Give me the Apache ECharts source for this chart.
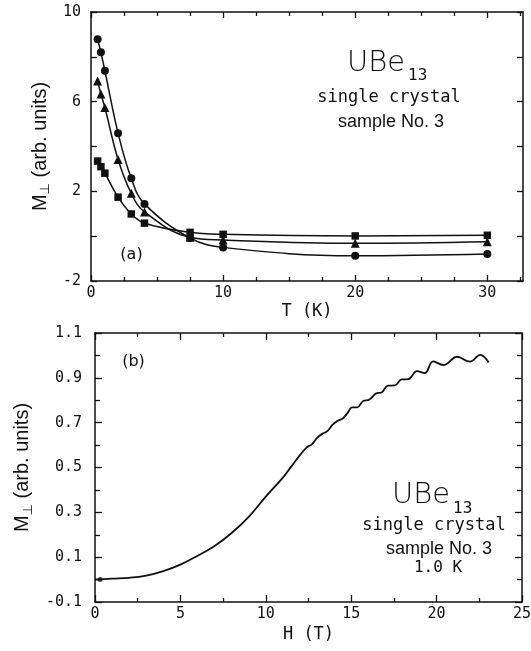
<!DOCTYPE html>
<html><head><meta charset="utf-8">
<script src="https://cdn.jsdelivr.net/npm/echarts@6/dist/echarts.min.js"></script>
<style>html,body{margin:0;padding:0;background:#fff}#c{width:531px;height:651px}</style>
</head><body><div id="c"></div>
<script>
// ---- Panel (a): M_perp vs T ----
const temperatureK = [0.5, 0.75, 1.05, 2.05, 3.05, 4.05, 7.5, 10, 20, 30];
const mCircle   = [8.78, 8.20, 7.38, 4.59, 2.58, 1.44, -0.08, -0.50, -0.87, -0.79];
const mTriangle = [6.92, 6.34, 5.74, 3.42, 1.91, 1.08, -0.05, -0.17, -0.32, -0.25];
const mSquare   = [3.35, 3.10, 2.81, 1.74, 0.99, 0.58, 0.17, 0.08, 0.01, 0.04];
const aXMajor = [0, 10, 20, 30];
const aXMinor = [2.5, 5, 7.5, 12.5, 15, 17.5, 22.5, 25, 27.5, 32.5];
const aYTicks = [-2, 0, 2, 4, 6, 8, 10];
const aYLabels = [-2, 2, 6, 10];

// ---- Panel (b): M_perp vs H ----
const fieldH = [0, 0.5, 1, 2, 3, 4, 5, 6, 7, 8, 9, 10, 11, 11.5, 12, 12.4, 12.7, 13.0, 13.3, 13.6, 13.9, 14.2, 14.5, 14.8, 15.05, 15.35, 15.7, 16.05, 16.45, 16.8, 17.15, 17.55, 17.95, 18.35, 18.85, 19.3, 19.8, 20.4, 21.2, 21.95, 22.55, 23.05];
const magM = [0, 0.002, 0.004, 0.008, 0.018, 0.038, 0.067, 0.106, 0.15, 0.208, 0.28, 0.37, 0.455, 0.505, 0.555, 0.59, 0.603, 0.632, 0.65, 0.662, 0.69, 0.708, 0.718, 0.745, 0.768, 0.768, 0.797, 0.802, 0.83, 0.836, 0.865, 0.866, 0.893, 0.894, 0.93, 0.921, 0.973, 0.957, 0.994, 0.972, 1.002, 0.968];
const bXMajor = [0, 5, 10, 15, 20, 25];
const bXMinor = [2.5, 7.5, 12.5, 17.5, 22.5];
const bYMajor = [-0.1, 0.1, 0.3, 0.5, 0.7, 0.9, 1.1];
const bYMinor = [0, 0.2, 0.4, 0.6, 0.8, 1.0];

const INK = '#111';
const MONO = 'DejaVu Sans Mono';
const SANS = 'Liberation Sans, Arial, sans-serif';

function ax(o) {
  const a = {
    type: 'value', gridIndex: o.grid, position: o.pos, min: o.min, max: o.max,
    axisLine: { show: !!o.line, onZero: false, lineStyle: { color: INK, width: 1.5 } },
    axisTick: { show: !!o.ticks, inside: true, length: o.len || 5, customValues: o.ticks, lineStyle: { color: INK, width: 1.3 } },
    axisLabel: o.labels ? { show: true, customValues: o.labels, margin: o.margin, color: INK, fontFamily: MONO, fontSize: 15, formatter: o.fmt } : { show: false },
    splitLine: { show: false }
  };
  if (o.name) {
    a.name = o.name; a.nameLocation = 'middle'; a.nameGap = o.nameGap;
    a.nameTextStyle = o.nameStyle;
  }
  return a;
}

const yNameStyle = {
  color: INK, fontFamily: SANS, fontSize: 20,
  rich: {
    m: { fontFamily: SANS, fontSize: 20, lineHeight: 24, color: INK },
    s: { fontFamily: 'DejaVu Sans', fontSize: 13, lineHeight: 13, verticalAlign: 'bottom', color: INK }
  }
};
const xNameStyle = { color: INK, fontFamily: MONO, fontSize: 17 };
const yName = '{m|M}{s|⊥}{m| (arb. units)}';

const gA = { left: 91, top: 12, width: 432, height: 269, containLabel: false, outerBoundsMode: 'none' };
const gB = { left: 95, top: 333, width: 427, height: 269, containLabel: false, outerBoundsMode: 'none' };

const option = {
  animation: false,
  backgroundColor: '#fff',
  grid: [gA, Object.assign({}, gA), gB, Object.assign({}, gB)],
  xAxis: [
    ax({ grid: 0, pos: 'bottom', min: 0, max: 32.7, line: true, ticks: aXMajor, len: 6, labels: aXMajor, margin: 5,
         name: 'T (K)', nameGap: 22, nameStyle: xNameStyle }),
    ax({ grid: 0, pos: 'top', min: 0, max: 32.7, line: true, ticks: aXMajor, len: 6 }),
    ax({ grid: 1, pos: 'bottom', min: 0, max: 32.7, ticks: aXMinor, len: 4 }),
    ax({ grid: 1, pos: 'top', min: 0, max: 32.7, ticks: aXMinor, len: 4 }),
    ax({ grid: 2, pos: 'bottom', min: 0, max: 25, line: true, ticks: bXMajor, len: 7, labels: bXMajor, margin: 5,
         name: 'H (T)', nameGap: 24, nameStyle: xNameStyle }),
    ax({ grid: 2, pos: 'top', min: 0, max: 25, line: true, ticks: bXMajor, len: 7 }),
    ax({ grid: 3, pos: 'bottom', min: 0, max: 25, ticks: bXMinor, len: 4 }),
    ax({ grid: 3, pos: 'top', min: 0, max: 25, ticks: bXMinor, len: 4 })
  ],
  yAxis: [
    ax({ grid: 0, pos: 'left', min: -2, max: 10, line: true, ticks: aYTicks, len: 6, labels: aYLabels, margin: 10,
         name: yName, nameGap: 38, nameStyle: yNameStyle }),
    ax({ grid: 0, pos: 'right', min: -2, max: 10, line: true, ticks: aYTicks, len: 6 }),
    ax({ grid: 1, pos: 'left', min: -2, max: 10 }),
    ax({ grid: 2, pos: 'left', min: -0.1, max: 1.1, line: true, ticks: bYMajor, len: 7, labels: bYMajor, margin: 13,
         fmt: v => v.toFixed(1), name: yName, nameGap: 53, nameStyle: yNameStyle }),
    ax({ grid: 2, pos: 'right', min: -0.1, max: 1.1, line: true, ticks: bYMajor, len: 7 }),
    ax({ grid: 3, pos: 'left', min: -0.1, max: 1.1, ticks: bYMinor, len: 5 }),
    ax({ grid: 3, pos: 'right', min: -0.1, max: 1.1, ticks: bYMinor, len: 5 })
  ],
  series: [
    { type: 'line', xAxisIndex: 0, yAxisIndex: 0, smooth: 0.4,
      data: temperatureK.map((t, i) => [t, mCircle[i]]), symbol: 'circle', symbolSize: 8,
      itemStyle: { color: INK }, lineStyle: { color: INK, width: 1.5 } },
    { type: 'line', xAxisIndex: 0, yAxisIndex: 0, smooth: 0.4,
      data: temperatureK.map((t, i) => [t, mTriangle[i]]), symbol: 'triangle', symbolSize: 9,
      itemStyle: { color: INK }, lineStyle: { color: INK, width: 1.5 } },
    { type: 'line', xAxisIndex: 0, yAxisIndex: 0, smooth: 0.4,
      data: temperatureK.map((t, i) => [t, mSquare[i]]), symbol: 'rect', symbolSize: 7.5,
      itemStyle: { color: INK }, lineStyle: { color: INK, width: 1.5 } },
    { type: 'line', xAxisIndex: 4, yAxisIndex: 3, smooth: 0.4, showSymbol: false,
      data: fieldH.map((h, i) => [h, magM[i]]),
      lineStyle: { color: INK, width: 1.8 } },
    { type: 'scatter', xAxisIndex: 4, yAxisIndex: 3, data: [[fieldH[0] + 0.3, magM[0]]],
      symbol: 'circle', symbolSize: 5, itemStyle: { color: INK } }
  ],
  graphic: [
    { type: 'text', x: 347, y: 63, style: { text: 'UBe', font: '200 29px "DejaVu Sans"', fill: INK, align: 'left', verticalAlign: 'middle' } },
    { type: 'text', x: 408, y: 76, style: { text: '13', font: '16px "DejaVu Sans Mono"', fill: INK, align: 'left', verticalAlign: 'middle' } },
    { type: 'text', x: 389, y: 97.5, style: { text: 'single crystal', font: '17px "DejaVu Sans Mono"', fill: INK, align: 'center', verticalAlign: 'middle' } },
    { type: 'text', x: 391, y: 122, style: { text: 'sample No. 3', font: '18px "Liberation Sans"', fill: INK, align: 'center', verticalAlign: 'middle' } },
    { type: 'text', x: 131.5, y: 255, style: { text: '(a)', font: '16px "DejaVu Sans"', fill: INK, align: 'center', verticalAlign: 'middle' } },
    { type: 'text', x: 392, y: 495, style: { text: 'UBe', font: '200 29px "DejaVu Sans"', fill: INK, align: 'left', verticalAlign: 'middle' } },
    { type: 'text', x: 453, y: 508.5, style: { text: '13', font: '16px "DejaVu Sans Mono"', fill: INK, align: 'left', verticalAlign: 'middle' } },
    { type: 'text', x: 434, y: 525.6, style: { text: 'single crystal', font: '17px "DejaVu Sans Mono"', fill: INK, align: 'center', verticalAlign: 'middle' } },
    { type: 'text', x: 439, y: 548.8, style: { text: 'sample No. 3', font: '18px "Liberation Sans"', fill: INK, align: 'center', verticalAlign: 'middle' } },
    { type: 'text', x: 438, y: 567.5, style: { text: '1.0 K', font: '16px "DejaVu Sans Mono"', fill: INK, align: 'center', verticalAlign: 'middle' } },
    { type: 'text', x: 133.5, y: 361.5, style: { text: '(b)', font: '16px "DejaVu Sans"', fill: INK, align: 'center', verticalAlign: 'middle' } }
  ]
};

const chart = echarts.init(document.getElementById('c'), null, { renderer: 'canvas' });
chart.setOption(option);
</script>
</body></html>
